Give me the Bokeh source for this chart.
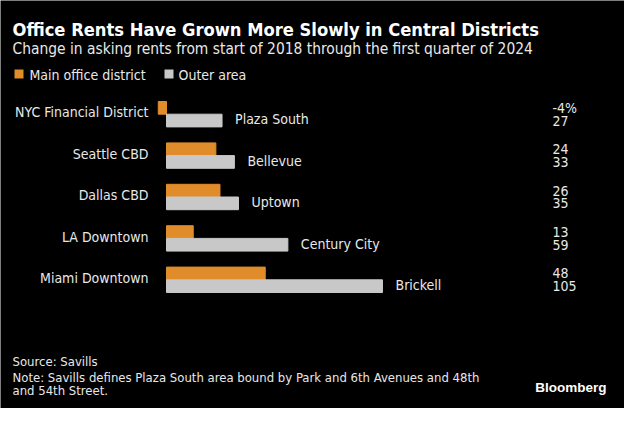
from bokeh.plotting import figure
from bokeh.models import Range1d, Label, ColumnDataSource, BoxAnnotation
from bokeh.embed import file_html
from bokeh.resources import INLINE
from bokeh.core.properties import value

# ---- data ----
main_districts = ["NYC Financial District", "Seattle CBD", "Dallas CBD", "LA Downtown", "Miami Downtown"]
outer_areas = ["Plaza South", "Bellevue", "Uptown", "Century City", "Brickell"]
main_values = [-4, 24, 26, 13, 48]
outer_values = [27, 33, 35, 59, 105]
main_labels = ["-4%", "24", "26", "13", "48"]
outer_labels = ["27", "33", "35", "59", "105"]

ORANGE = "#e08c2b"
GRAY = "#c8c8c8"
TXT = "#e8e8e8"
FONT = "DejaVu Sans Condensed"

W, H = 624, 408
PX_PER_UNIT = 2.057
X0 = 166  # frame px of zero
ROW = 41.4
Y0 = 113.7  # frame px of first group centre

p = figure(width=W, height=H, output_backend="svg", toolbar_location=None,
           min_border=0, background_fill_color="black", border_fill_color="black",
           outline_line_color=None,
           x_range=Range1d(-X0 / PX_PER_UNIT, (W - X0) / PX_PER_UNIT),
           y_range=Range1d((H - Y0) / ROW, -Y0 / ROW))
p.axis.visible = False
p.grid.visible = False

idx = list(range(len(main_districts)))
bh = 12.7 / ROW
src = ColumnDataSource(dict(
    y_main=[i - bh / 2 for i in idx],
    y_outer=[i + bh / 2 for i in idx],
    y_main_name=[i - 1.8 / ROW for i in idx],
    y_outer_name=[i + bh / 2 - 1.2 / ROW for i in idx],
    main=main_values, outer=outer_values,
    main_name=main_districts, outer_name=outer_areas,
    main_lab=main_labels, outer_lab=outer_labels,
    zero=[0] * len(idx),
    outer_text_x=[v + 13 / PX_PER_UNIT for v in outer_values],
    main_text_x=[-18 / PX_PER_UNIT] * len(idx),
    val_x=[(552 - X0) / PX_PER_UNIT] * len(idx),
))

p.hbar(y="y_main", left="zero", right="main", height=bh, color=ORANGE, source=src)
p.hbar(y="y_outer", left="zero", right="outer", height=bh, color=GRAY, source=src)

common = dict(source=src, text_baseline="middle", text_color=TXT,
              text_font=value(FONT), text_font_size="14px")
p.text(x="main_text_x", y="y_main_name", text="main_name", text_align="right", **common)
p.text(x="outer_text_x", y="y_outer_name", text="outer_name", text_align="left", **common)
p.text(x="val_x", y="y_main", text="main_lab", text_align="left", **common)
p.text(x="val_x", y="y_outer", text="outer_lab", text_align="left", **common)


def lab(x, y, text, size, bold=False, color=TXT, font=FONT, align="left"):
    p.add_layout(Label(x=x, y=H - y, x_units="screen", y_units="screen", text=text,
                       text_font=font, text_font_size=size, text_color=color,
                       text_font_style="bold" if bold else "normal",
                       text_baseline="middle", text_align=align))


lab(12, 29, "Office Rents Have Grown More Slowly in Central Districts", "18.2px", bold=True, color="white")
lab(12, 48, "Change in asking rents from start of 2018 through the first quarter of 2024", "15.4px")
# legend
p.add_layout(BoxAnnotation(left=14, right=23, bottom=H - 78, top=H - 69,
                           left_units="screen", right_units="screen",
                           bottom_units="screen", top_units="screen",
                           fill_color=ORANGE, fill_alpha=1, line_color=None))
lab(29, 74, "Main office district", "14px")
p.add_layout(BoxAnnotation(left=164, right=173, bottom=H - 78, top=H - 69,
                           left_units="screen", right_units="screen",
                           bottom_units="screen", top_units="screen",
                           fill_color=GRAY, fill_alpha=1, line_color=None))
lab(178, 74, "Outer area", "14px")

lab(12, 361, "Source: Savills", "13px")
lab(12, 377, "Note: Savills defines Plaza South area bound by Park and 6th Avenues and 48th", "13px")
lab(12, 390, "and 54th Street.", "13px")
lab(606, 387, "Bloomberg", "13.5px", bold=True, color="white", font="Liberation Sans", align="right")

open("out.html", "w").write(file_html(p, INLINE))
